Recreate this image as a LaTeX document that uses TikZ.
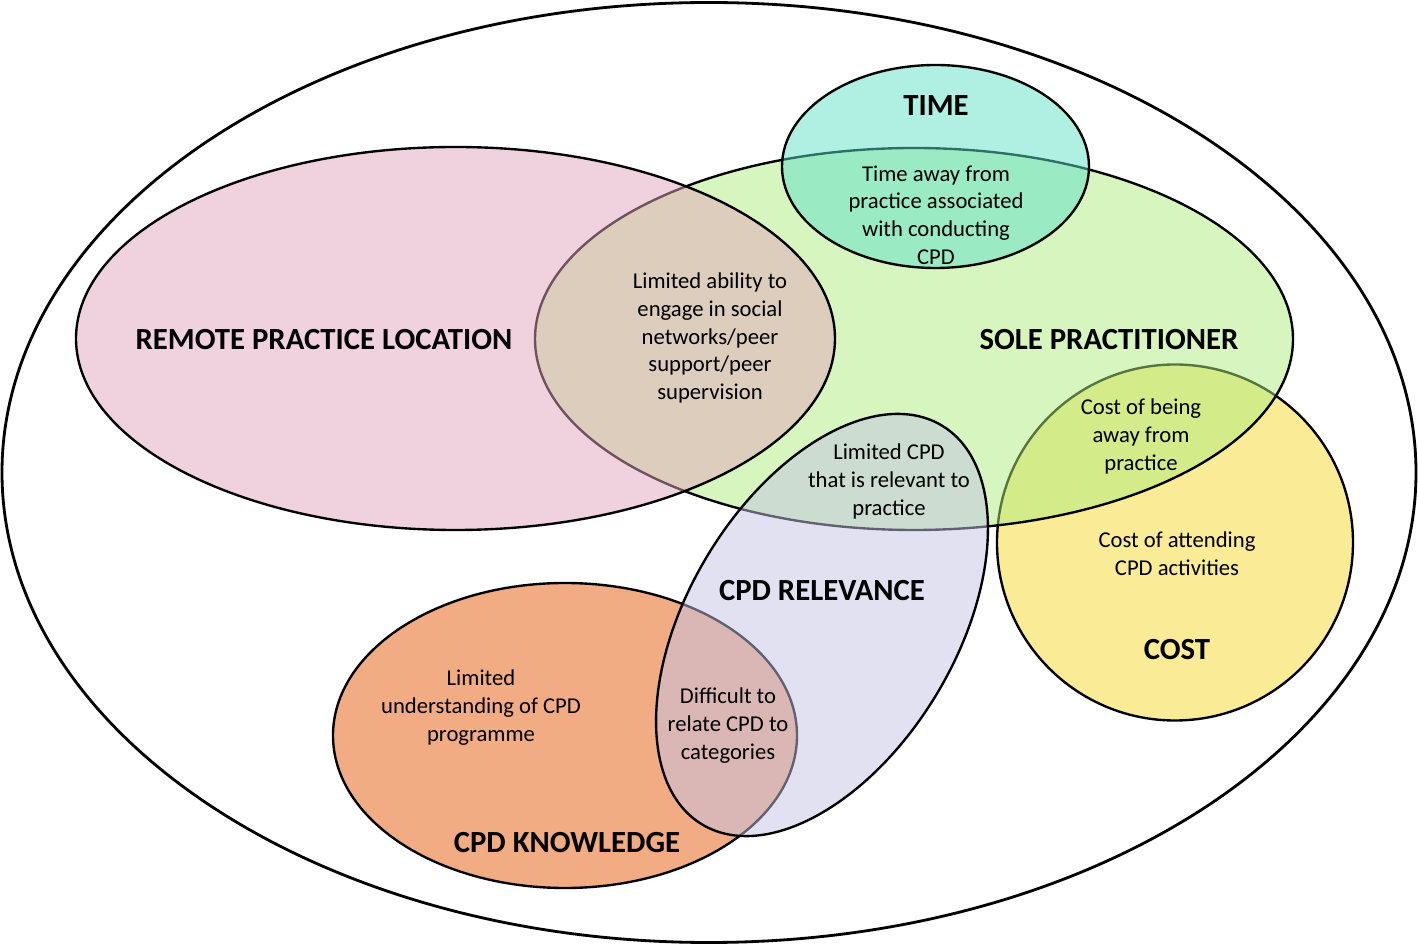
\documentclass[tikz,border=0pt]{standalone}
\usepackage{fontspec}
\setmainfont{Carlito}
\begin{document}
\begin{tikzpicture}[x=0.02cm, y=-0.02cm, line join=round]
% Venn diagram of CPD barriers, coordinates in pixels
\providecommand{\vennLineWidth}{1.35pt}
\providecommand{\vennOuterWidth}{1.6pt}
\definecolor{vennCost}{RGB}{247,222,80}
\definecolor{vennKnow}{RGB}{233,117,50}
\definecolor{vennSole}{RGB}{175,235,125}
\definecolor{vennTime}{RGB}{95,225,200}
\definecolor{vennRemote}{RGB}{225,165,189}
\definecolor{vennRelev}{RGB}{195,195,229}
\tikzset{
  vennSet/.style={draw=black, line width=\vennLineWidth, fill=#1, fill opacity=0.5},
  vennHead/.style={font=\bfseries\fontsize{17.5}{21}\selectfont, inner sep=0pt},
  vennText/.style={align=center, font=\fontsize{12.9}{15.8}\selectfont, inner sep=0pt}
}
\useasboundingbox (0,0) rectangle (1418,945);
% Outer frame
\draw[line width=\vennOuterWidth] (709,472.5) ellipse [x radius=707, y radius=470];
% Sets, back to front
\path[vennSet=vennCost, fill opacity=0.6] (1175,542.5) circle [radius=178];
\path[vennSet=vennKnow, fill opacity=0.6] (565,735.5) ellipse [x radius=232, y radius=152.5];
\path[vennSet=vennSole] (914,339) ellipse [x radius=379, y radius=191];
\path[vennSet=vennTime] (935.5,166.5) ellipse [x radius=153.5, y radius=101.5];
\path[vennSet=vennRemote] (455.5,338.5) ellipse [x radius=379.5, y radius=191.5];
\path[vennSet=vennRelev, rotate around={59:(822,625)}] (822,625) ellipse [x radius=232.7, y radius=133.9];
% Headings
\node[vennHead] (timeHead) at (936,106) {TIME};
\node[vennHead] (remoteHead) at (324,340) {REMOTE PRACTICE LOCATION};
\node[vennHead] (soleHead) at (1109,340) {SOLE PRACTITIONER};
\node[vennHead] (relevHead) at (822,591) {CPD RELEVANCE};
\node[vennHead] (costHead) at (1177,650) {COST};
\node[vennHead] (knowHead) at (567,843) {CPD KNOWLEDGE};
% Overlap texts
\node[vennText] (timeText) at (936,215) {Time away from\\practice associated\\with conducting\\CPD};
\node[vennText] (peerText) at (710,338) {Limited ability to\\engage in social\\networks/peer\\support/peer\\supervision};
\node[vennText] (relevText) at (889,481.5) {Limited CPD\\that is relevant to\\practice};
\node[vennText] (awayText) at (1141,436.5) {Cost of being\\away from\\practice};
\node[vennText] (attendText) at (1177,553.5) {Cost of attending\\CPD activities};
\node[vennText] (knowText) at (481,707.5) {Limited\\understanding of CPD\\programme};
\node[vennText] (relateText) at (728,725.5) {Difficult to\\relate CPD to\\categories};
\end{tikzpicture}
\end{document}
